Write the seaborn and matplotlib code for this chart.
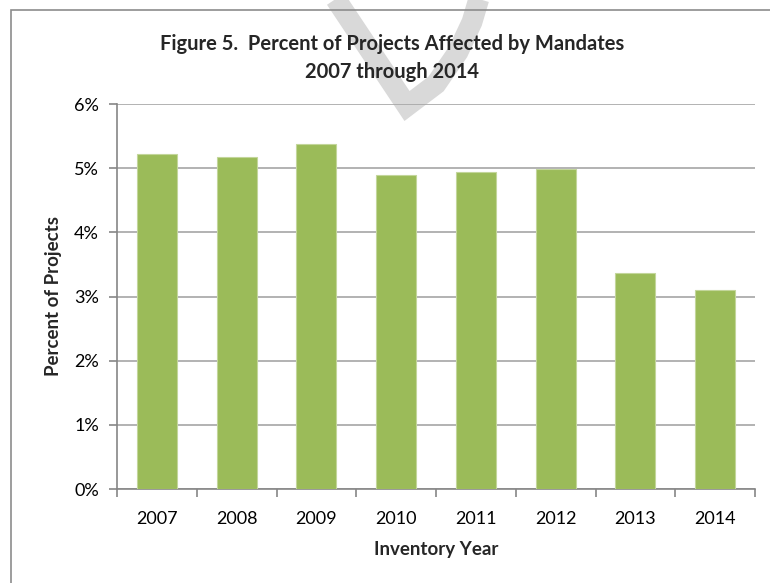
import numpy as np
import pandas as pd
import seaborn as sns
import matplotlib.pyplot as plt
from matplotlib.ticker import PercentFormatter, FixedLocator
from matplotlib.patches import Rectangle
from matplotlib.lines import Line2D

# data
years = ["2007", "2008", "2009", "2010", "2011", "2012", "2013", "2014"]
pct_projects = [5.22, 5.18, 5.38, 4.89, 4.94, 4.98, 3.36, 3.10]

bar_color = "#9BBB59"
grid_color = "#A6A6A6"
axis_color = "#868686"

sns.set_theme(style="white")
plt.rcParams["font.family"] = ["Lato", "DejaVu Sans"]

df = pd.DataFrame({"year": years, "pct": pct_projects})

fig = plt.figure(figsize=(7.7, 5.83), dpi=100)
W, H = 770, 583

# watermark stroke (piece of a large "DRAFT" letter)
wm_x = [333, 407, 436, 458, 472, 480]
wm_y = [-5, 106, 84, 52, 22, -5]
fig.add_artist(Line2D([x / W for x in wm_x], [1 - y / H for y in wm_y],
                      color="#D9D9D9", lw=15, solid_joinstyle="miter",
                      solid_capstyle="butt", zorder=0))

# outer chart frame (cropped on the right and bottom)
fig.add_artist(Rectangle((10.5 / W, -0.1), 1.2, 1.1 - 10.5 / H, fill=False,
                         edgecolor="#8C8C8C", lw=1.2, zorder=1))

ax = fig.add_axes([117 / W, 1 - 489 / H, (755 - 117) / W, (489 - 104) / H])
ax.patch.set_alpha(0)

sns.barplot(data=df, x="year", y="pct", color=bar_color, width=0.5,
            saturation=1, edgecolor="#C3D69B", linewidth=0.8, ax=ax, zorder=3)

ax.set_xlim(-0.5, len(years) - 0.5)
ax.set_ylim(0, 6)
ax.set_yticks(np.arange(0, 7, 1))
ax.yaxis.set_major_formatter(PercentFormatter(decimals=0))
ax.yaxis.grid(True, color=grid_color, lw=1.2, zorder=0)
ax.set_axisbelow(True)

# x ticks sit between the categories
ax.xaxis.set_minor_locator(FixedLocator(np.arange(-0.5, len(years), 1)))
ax.tick_params(axis="x", which="major", length=0, pad=16, labelsize=13,
               labelcolor="black")
ax.tick_params(axis="x", which="minor", length=6, width=1.2, color=axis_color,
               direction="out", bottom=True)
ax.tick_params(axis="y", which="major", length=6, width=1.2, color=axis_color,
               direction="out", left=True, pad=7, labelsize=13,
               labelcolor="black")

for side in ["top", "right"]:
    ax.spines[side].set_visible(False)
for side in ["left", "bottom"]:
    ax.spines[side].set_color(axis_color)
    ax.spines[side].set_linewidth(1.2)

ax.set_xlabel("Inventory Year", fontsize=13.5, fontweight="bold", labelpad=10)
ax.set_ylabel("Percent of Projects", fontsize=13.5, fontweight="bold", labelpad=9)

fig.text(392 / W, 1 - 58 / H,
         "Figure 5.  Percent of Projects Affected by Mandates\n2007 through 2014",
         ha="center", va="center", fontsize=14.5, fontweight="bold",
         linespacing=1.5)

fig.savefig("out.png", dpi=100)
